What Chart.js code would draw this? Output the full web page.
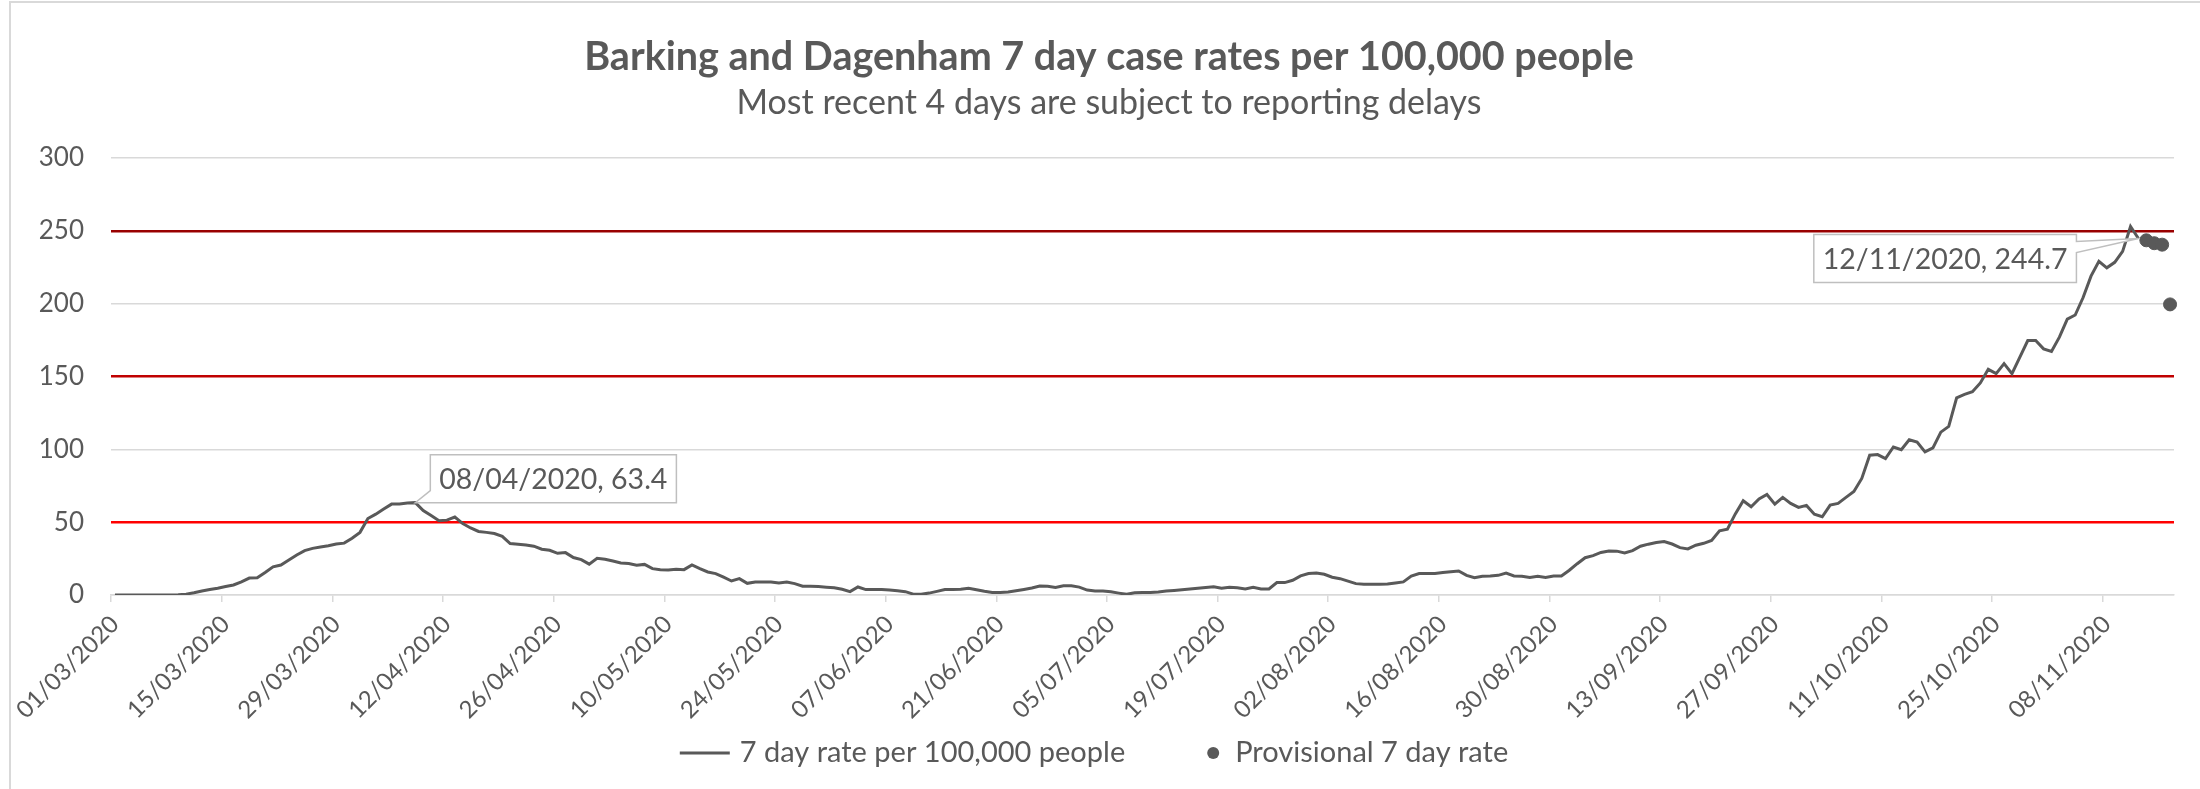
<!DOCTYPE html>
<html>
<head>
<meta charset="utf-8">
<script src="https://cdn.jsdelivr.net/npm/chart.js@4.4.1/dist/chart.umd.min.js"></script>
<style>
  html, body { margin: 0; padding: 0; background: #fff; }
  #wrap { position: relative; width: 2200px; height: 789px; }
</style>
</head>
<body>
<div id="wrap"><canvas id="chart" width="2200" height="789"></canvas></div>
<script>
// one category per day, 01/03/2020 .. 16/11/2020
const dayCount = 261;
const dates = [];
for (let i = 0; i < dayCount; i++) {
  const d = new Date(2020, 2, 1 + i);
  dates.push(String(d.getDate()).padStart(2, "0") + "/" + String(d.getMonth() + 1).padStart(2, "0") + "/" + d.getFullYear());
}

// labelled dates on the x axis
const tickLabels = [
  "01/03/2020", "15/03/2020", "29/03/2020", "12/04/2020", "26/04/2020",
  "10/05/2020", "24/05/2020", "07/06/2020", "21/06/2020", "05/07/2020",
  "19/07/2020", "02/08/2020", "16/08/2020", "30/08/2020", "13/09/2020",
  "27/09/2020", "11/10/2020", "25/10/2020", "08/11/2020",
];

// 7 day rate per 100,000, 01/03 .. 12/11
const rate = [
  0, 0, 0, 0, 0, 0, 0, 0, 0.2, 0.6,
  1.5, 2.8, 3.8, 4.7, 5.8, 6.9, 9.0, 11.6, 11.9, 15.5,
  19.3, 20.6, 24, 27.5, 30.5, 32, 33, 33.8, 35, 35.6,
  39, 43, 52.5, 55.5, 59, 62.4, 62.4, 63.2, 63.4, 58,
  54.5, 51, 51.4, 53.5, 49, 46, 43.6, 43, 42.2, 40.3,
  35.3, 34.9, 34.3, 33.5, 31.4, 30.7, 28.6, 29.1, 25.7, 24.3,
  21.2, 25.2, 24.5, 23.3, 22, 21.6, 20.4, 21, 18.1, 17.4,
  17.2, 17.7, 17.4, 20.7, 18.1, 15.8, 14.7, 12.2, 9.6, 11.2,
  8.0, 8.9, 8.9, 8.9, 8.2, 8.9, 7.8, 6.0, 6.0, 5.8,
  5.4, 5.0, 3.9, 2.3, 5.5, 3.7, 3.7, 3.7, 3.4, 2.9,
  2.3, 0.6, 0.5, 1.3, 2.5, 3.7, 3.7, 3.9, 4.6, 3.6,
  2.6, 1.8, 1.8, 2.0, 2.9, 3.8, 4.8, 6.2, 6.0, 5.1,
  6.3, 6.3, 5.4, 3.4, 2.8, 2.8, 2.2, 1.3, 0.5, 1.5,
  1.7, 1.8, 2.1, 2.7, 3.1, 3.6, 4.1, 4.7, 5.2, 5.6,
  4.7, 5.3, 5.0, 4.2, 5.3, 4.1, 4.1, 8.5, 8.5, 10.1,
  13.1, 14.7, 15.1, 14.2, 12.2, 11.2, 9.5, 7.8, 7.3, 7.3,
  7.3, 7.5, 8.3, 9.0, 13.0, 14.7, 14.7, 14.7, 15.4, 16.0,
  16.5, 13.5, 11.9, 12.9, 13.0, 13.5, 15.0, 13.1, 12.9, 12.0,
  12.9, 12.0, 13.1, 13.1, 17, 21.5, 25.6, 27, 29.2, 30.2,
  30.1, 28.9, 30.5, 33.5, 34.9, 36.0, 36.7, 35, 32.5, 31.6,
  34.2, 35.5, 37.5, 44, 45.2, 55.7, 64.7, 60.6, 65.9, 69,
  62.4, 67, 62.9, 60.1, 61.5, 55.5, 53.7, 61.7, 62.9, 67,
  71, 80, 96, 96.4, 93.7, 101.6, 99.8, 106.6, 105, 98.2,
  101, 111.8, 115.7, 135.4, 137.7, 139.5, 145.6, 154.9, 152, 158.8,
  152, 163.3, 174.7, 174.7, 169, 167.2, 177, 189.4, 192.2, 204.2,
  218.9, 229.1, 224.6, 228.4, 235.9, 253, 244.7,
];

// provisional (last 4 days)
const provisionalDates = ["13/11/2020", "14/11/2020", "15/11/2020", "16/11/2020"];
const provisionalRate = [243.5, 241.5, 240.5, 199.5];

// points that carry a data label
const calloutDates = ["08/04/2020", "12/11/2020"];

const yTicks = [0, 50, 100, 150, 200, 250, 300];

const provisional = dates.map((d) => {
  const k = provisionalDates.indexOf(d);
  return k >= 0 ? provisionalRate[k] : null;
});

const textColor = "#595959";
const gridColor = "#d9d9d9";
const redLines = { 50: "#ff0000", 150: "#c00000", 250: "#990000" };

// chart frame (Excel chart area border)
const frame = {
  id: "frame",
  beforeDraw(chart) {
    const c = chart.ctx;
    c.save();
    c.fillStyle = "#fff";
    c.fillRect(0, 0, chart.width, chart.height);
    c.strokeStyle = gridColor;
    c.lineWidth = 2;
    c.strokeRect(10, 2, chart.width + 20, chart.height + 20);
    c.restore();
  },
};

// data label boxes with a pointer
const callouts = {
  id: "callouts",
  afterDatasetsDraw(chart) {
    const c = chart.ctx;
    const xs = chart.scales.x, ys = chart.scales.y;
    c.save();
    c.font = "28.5px Lato";
    c.textBaseline = "middle";
    c.textAlign = "center";
    calloutDates.forEach((date, n) => {
      const i = dates.indexOf(date);
      const v = rate[i];
      const px = xs.getPixelForValue(i), py = ys.getPixelForValue(v);
      const text = date + ", " + v.toFixed(1);
      const w = c.measureText(text).width + 18, h = 48;
      c.beginPath();
      let left, top;
      if (n === 0) {
        left = px + 15; top = py - h;
        c.moveTo(left, top);
        c.lineTo(left + w, top);
        c.lineTo(left + w, top + h);
        c.lineTo(left, top + h);
        c.lineTo(px, py);
        c.lineTo(left, top + h - 12);
      } else {
        left = px - 62 - w; top = py - 4;
        c.moveTo(left, top);
        c.lineTo(left + w, top);
        c.lineTo(left + w, top + 7);
        c.lineTo(px, py);
        c.lineTo(left + w, top + 18);
        c.lineTo(left + w, top + h);
        c.lineTo(left, top + h);
      }
      c.closePath();
      c.fillStyle = "#fff";
      c.fill();
      c.strokeStyle = "#bfbfbf";
      c.lineWidth = 1.5;
      c.stroke();
      c.fillStyle = textColor;
      c.fillText(text, left + w / 2, top + h / 2 + 1);
    });
    c.restore();
  },
};

// legend row at the bottom
const legendRow = {
  id: "legendRow",
  afterDraw(chart) {
    const c = chart.ctx;
    const ds = chart.data.datasets;
    const y = 753;
    c.save();
    c.font = "29px Lato";
    c.textBaseline = "middle";
    c.fillStyle = textColor;
    const w1 = c.measureText(ds[0].label).width;
    const w2 = c.measureText(ds[1].label).width;
    const total = 50 + 10 + w1 + 88 + 22 + w2;
    let x = chart.width / 2 - total / 2 - 6;
    c.strokeStyle = textColor;
    c.lineWidth = 3;
    c.beginPath();
    c.moveTo(x, y);
    c.lineTo(x + 50, y);
    c.stroke();
    x += 60;
    c.fillText(ds[0].label, x, y);
    x += w1 + 88;
    c.beginPath();
    c.arc(x, y, 6, 0, Math.PI * 2);
    c.fill();
    x += 22;
    c.fillText(ds[1].label, x, y);
    c.restore();
  },
};

new Chart(document.getElementById("chart"), {
  type: "line",
  data: {
    labels: dates,
    datasets: [
      {
        label: "7 day rate per 100,000 people",
        data: rate,
        borderColor: textColor,
        borderWidth: 3,
        pointRadius: 0,
        tension: 0,
      },
      {
        label: "Provisional 7 day rate",
        data: provisional,
        showLine: false,
        pointRadius: 6.5,
        pointBackgroundColor: textColor,
        pointBorderColor: textColor,
      },
    ],
  },
  options: {
    responsive: false,
    animation: false,
    events: [],
    layout: { padding: { top: 0, right: 0, bottom: 58, left: 18 } },
    plugins: {
      legend: { display: false },
      tooltip: { enabled: false },
      title: {
        display: true,
        text: "Barking and Dagenham 7 day case rates per 100,000 people",
        color: textColor,
        font: { family: "Lato", size: 39.5, weight: "bold" },
        padding: { top: 33.3, bottom: 0 },
      },
      subtitle: {
        display: true,
        text: "Most recent 4 days are subject to reporting delays",
        color: textColor,
        font: { family: "Lato", size: 34 },
        padding: { top: 2, bottom: 34.5 },
      },
    },
    scales: {
      x: {
        offset: true,
        afterFit: (s) => { s.height = 136; s.paddingRight = 26; },
        grid: {
          offset: true,
          drawOnChartArea: false,
          tickLength: 7,
          lineWidth: 1.5,
          color: (ctx) => (ctx.index < dates.length && tickLabels.includes(dates[ctx.index]) ? gridColor : "rgba(0,0,0,0)"),
        },
        border: { display: true, color: gridColor, width: 1.5 },
        ticks: {
          autoSkip: false,
          maxRotation: 45,
          minRotation: 45,
          padding: 8,
          color: textColor,
          font: { family: "Lato", size: 24 },
          callback: (v, i) => (tickLabels.includes(dates[i]) ? dates[i] : ""),
        },
      },
      y: {
        min: 0,
        max: 300,
        afterFit: (s) => { s.width = 93; },
        afterBuildTicks: (s) => { s.ticks = yTicks.map((v) => ({ value: v })); },
        grid: {
          drawTicks: false,
          color: (ctx) => redLines[ctx.tick.value] || gridColor,
          lineWidth: (ctx) => (redLines[ctx.tick.value] ? 2.5 : 1.5),
        },
        border: { display: false },
        ticks: {
          padding: 27,
          color: textColor,
          font: { family: "Lato", size: 26 },
        },
      },
    },
  },
  plugins: [frame, callouts, legendRow],
});
</script>
</body>
</html>
